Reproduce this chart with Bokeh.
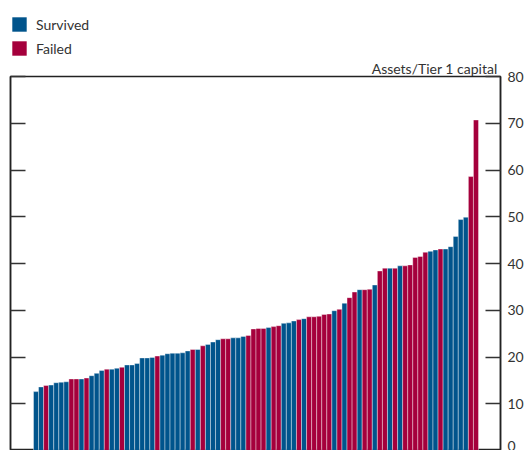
from bokeh.plotting import figure
from bokeh.layouts import column
from bokeh.models import LinearAxis, Range1d, FixedTicker, Title, ColumnDataSource
from bokeh.transform import factor_cmap
from bokeh.embed import file_html
from bokeh.resources import INLINE

# Assets / Tier 1 capital ratio per bank, sorted ascending
ratios = [12.6, 13.6, 13.9, 14.0, 14.5, 14.6, 14.7, 15.3, 15.3, 15.3,
          15.5, 16.0, 16.5, 17.1, 17.4, 17.4, 17.6, 17.8, 18.3, 18.3,
          18.6, 19.8, 19.8, 19.9, 20.2, 20.4, 20.7, 20.8, 20.8, 20.9,
          21.3, 21.6, 21.6, 22.4, 22.7, 23.2, 23.7, 23.9, 23.9, 24.1,
          24.1, 24.4, 24.6, 26.0, 26.1, 26.1, 26.3, 26.5, 26.7, 27.2,
          27.3, 27.7, 28.0, 28.2, 28.6, 28.6, 28.7, 29.1, 29.2, 29.9,
          30.2, 31.5, 32.7, 33.9, 34.4, 34.4, 34.5, 35.4, 38.4, 39.0,
          39.0, 39.0, 39.5, 39.5, 39.7, 41.3, 41.5, 42.4, 42.6, 42.9,
          43.1, 43.1, 43.6, 45.8, 49.4, 49.9, 58.6, 70.7]
S, F = "Survived", "Failed"
status = [S, S, F, S, S, S, S, F, F, S,
          F, S, S, S, F, S, S, F, S, S,
          S, S, S, S, F, S, S, S, S, S,
          S, F, S, F, S, S, S, F, F, S,
          S, S, F, F, F, F, S, F, F, S,
          S, S, F, S, F, F, F, F, F, S,
          F, S, F, F, S, F, F, S, F, F,
          S, F, S, F, F, F, F, F, S, S,
          F, S, S, S, S, S, F, F]
categories = ["Survived", "Failed"]
colors = ["#00548C", "#A5003C"]
y_ticks = [0, 10, 20, 30, 40, 50, 60, 70, 80]
axis_title = "Assets/Tier 1 capital"

idx = list(range(len(ratios)))
src = ColumnDataSource(dict(x=idx, y=ratios, status=status))
cmap = factor_cmap("status", palette=colors, factors=categories)

# ---- legend strip (top) ----
TOP_H = 57
lp = figure(width=528, height=TOP_H, output_backend="svg", toolbar_location=None,
            x_range=Range1d(1000, 1001), y_range=Range1d(1000, 1001),
            x_axis_location=None, y_axis_location=None,
            min_border_left=0, min_border_right=0, min_border_top=0,
            min_border_bottom=0)
lp.grid.visible = False
lp.outline_line_color = None
lp.vbar(x="x", top="y", bottom=0, width=1.0, source=src, fill_color=cmap,
        line_color=None, legend_field="status")
lg = lp.legend[0]
lg.location = (0, 0)
lg.margin = 0
lg.padding = 0
lg.spacing = 6
lg.glyph_width = 18
lg.glyph_height = 18
lg.label_standoff = 8
lg.label_height = 18
lg.label_text_font = "Lato"
lg.label_text_font_size = "14px"
lg.label_text_color = "#333333"
lg.border_line_color = None
lg.background_fill_alpha = 0

# ---- main chart ----
p = figure(width=528, height=450 - TOP_H, output_backend="svg",
           toolbar_location=None,
           x_range=Range1d(-5.05, 91.85), y_range=Range1d(0, 80),
           x_axis_location=None, y_axis_location="right",
           min_border_left=10, min_border_right=28, min_border_top=74 - TOP_H,
           min_border_bottom=0)
p.grid.visible = False
p.outline_line_color = "#222222"
p.outline_line_width = 1.5
p.background_fill_color = None

p.vbar(x="x", top="y", bottom=0, width=1.0, source=src, fill_color=cmap,
       line_color="white", line_alpha=0.55, line_width=0.7)

ra = p.yaxis[0]
ra.ticker = FixedTicker(ticks=y_ticks)
ra.major_tick_in = 15
ra.major_tick_out = 0
ra.minor_tick_line_color = None
ra.major_tick_line_color = "#333333"
ra.major_tick_line_width = 1.5
ra.axis_line_color = "#222222"
ra.axis_line_width = 1.5
ra.major_label_standoff = 7
ra.major_label_text_font = "Lato"
ra.major_label_text_font_size = "14px"
ra.major_label_text_color = "#333333"

la = LinearAxis(ticker=FixedTicker(ticks=y_ticks))
la.major_tick_in = 15
la.major_tick_out = 0
la.minor_tick_line_color = None
la.major_tick_line_color = "#333333"
la.major_tick_line_width = 1.5
la.axis_line_color = "#222222"
la.axis_line_width = 1.5
la.major_label_overrides = {t: "" for t in y_ticks}
la.major_label_standoff = 0
p.add_layout(la, "left")

t = Title(text=axis_title, align="right", text_font="Lato",
          text_font_size="14px", text_font_style="normal",
          text_color="#333333", offset=3, standoff=0)
p.add_layout(t, "above")

open("out.html", "w").write(file_html(column(lp, p, spacing=0), INLINE))
